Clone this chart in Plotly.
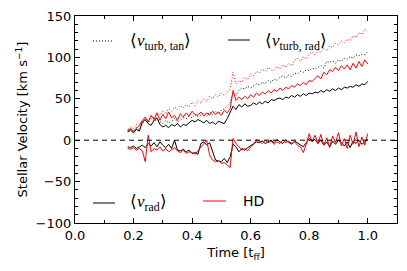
import plotly.graph_objects as go

t = [0.18, 0.19, 0.20, 0.21, 0.22, 0.23, 0.24, 0.25, 0.26, 0.27,
     0.28, 0.29, 0.30, 0.31, 0.32, 0.33, 0.34, 0.35, 0.36, 0.37,
     0.38, 0.39, 0.40, 0.41, 0.42, 0.43, 0.44, 0.45, 0.46, 0.47,
     0.48, 0.49, 0.50, 0.51, 0.52, 0.53, 0.54, 0.55, 0.56, 0.57,
     0.58, 0.59, 0.60, 0.61, 0.62, 0.63, 0.64, 0.65, 0.66, 0.67,
     0.68, 0.69, 0.70, 0.71, 0.72, 0.73, 0.74, 0.75, 0.76, 0.77,
     0.78, 0.79, 0.80, 0.81, 0.82, 0.83, 0.84, 0.85, 0.86, 0.87,
     0.88, 0.89, 0.90, 0.91, 0.92, 0.93, 0.94, 0.95, 0.96, 0.97,
     0.98, 0.99, 1.00]

# MHD (black)
black_turb_rad = [10, 12, 9, 13, 11, 22, 25, 20, 18, 24, 27, 19, 16, 18, 15,
                  19, 17, 20, 16, 19, 18, 21, 24, 22, 25, 23, 21, 24, 20, 22,
                  19, 23, 21, 20, 26, 33, 41, 37, 43, 40, 44, 41, 42, 45, 43,
                  46, 44, 47, 45, 49, 48, 50, 51, 49, 52, 51, 54, 52, 55, 53,
                  56, 54, 57, 56, 58, 57, 60, 58, 61, 59, 62, 60, 63, 61, 64,
                  63, 65, 64, 67, 65, 68, 67, 71]
black_turb_tan = [11, 13, 10, 15, 12, 20, 24, 21, 26, 23, 25, 22, 20, 24, 21,
                  23, 26, 22, 25, 27, 26, 29, 27, 31, 28, 30, 33, 29, 34, 31,
                  35, 32, 36, 38, 42, 45, 58, 54, 60, 63, 62, 65, 63, 66, 68,
                  67, 70, 68, 72, 70, 74, 72, 76, 78, 75, 79, 77, 81, 80, 83,
                  82, 85, 84, 87, 86, 88, 90, 87, 95, 94, 96, 93, 97, 95, 99,
                  98, 101, 99, 103, 102, 104, 103, 107]
black_rad = [-8, -9, -7, -10, -8, -6, -9, -4, -7, -3, -8, -2, -6, -9, -5,
             -10, 0, -12, -13, -11, -14, -12, -16, -15, -17, -4, -2, -6, -3, -15,
             -24, -25, -26, -22, -27, -20, -5, -8, -14, -10, -12, -9, -7, -4, -2,
             -3, -1, -4, -2, 0, -3, 1, -2, -4, 0, -2, -5, -1, -3, -6,
             -8, -3, 2, -1, 1, -4, 0, -6, -2, -8, -1, -5, 0, -3, -7,
             -2, -9, -1, -4, 0, -5, -2, 1]

# HD (red)
red_turb_rad = [12, 14, 11, 15, 18, 24, 28, 22, 30, 25, 33, 24, 31, 26, 34,
                27, 30, 24, 32, 28, 33, 29, 35, 31, 30, 34, 29, 33, 30, 35,
                31, 34, 30, 36, 33, 38, 60, 48, 52, 49, 53, 50, 55, 52, 57,
                54, 58, 56, 60, 57, 61, 59, 63, 60, 64, 62, 66, 64, 68, 66,
                70, 67, 72, 71, 75, 78, 74, 82, 79, 85, 83, 88, 84, 90, 86,
                91, 85, 93, 87, 95, 89, 97, 92]
red_turb_tan = [13, 16, 14, 19, 17, 22, 26, 24, 29, 27, 33, 30, 36, 32, 38,
                35, 40, 37, 42, 39, 43, 40, 46, 42, 48, 45, 50, 47, 53, 50,
                55, 52, 57, 54, 58, 62, 82, 68, 72, 70, 76, 73, 80, 78, 83,
                81, 86, 83, 88, 85, 84, 89, 86, 91, 88, 93, 90, 96, 99, 95,
                101, 98, 104, 107, 103, 109, 106, 111, 108, 114, 112, 117, 115, 120, 118,
                122, 120, 126, 124, 130, 128, 134, 131]
red_rad = [-10, -11, -9, -12, -10, -13, -26, 6, -14, -10, -12, -8, -13, -10, -14,
           -11, -9, -13, -15, -12, -16, -14, -15, -17, -13, -9, -5, 0, -18, -24,
           -26, -25, -28, -27, -30, -33, 2, -4, -8, -12, -10, -13, -8, -5, 1,
           -2, -4, 0, -3, -1, -5, -2, -4, 0, -3, -1, -4, -2, -6, -8,
           -15, -5, 8, -2, 6, -4, 7, -6, 3, -9, 5, -3, 9, -7, 2,
           -10, 6, -5, 10, -8, 4, -6, 8]

x_ticks = [0.0, 0.2, 0.4, 0.6, 0.8, 1.0]
x_ticktext = ["0.0", "0.2", "0.4", "0.6", "0.8", "1.0"]
y_ticks = [-100, -50, 0, 50, 100, 150]

DOT = "1px,2px"

fig = go.Figure()

def add(y, color, dash):
    fig.add_trace(go.Scatter(x=t, y=y, mode="lines",
                             line=dict(color=color, width=1, dash=dash),
                             showlegend=False, hoverinfo="skip"))

add(black_turb_tan, "black", DOT)
add(red_turb_tan, "red", DOT)
add(black_turb_rad, "black", "solid")
add(red_turb_rad, "red", "solid")
add(black_rad, "black", "solid")
add(red_rad, "red", "solid")

# zero reference line
fig.add_shape(type="line", xref="paper", yref="y", x0=0, x1=1, y0=0, y1=0,
              line=dict(color="black", width=1, dash="5px,4px"))

# legend (paper coordinates of plot area)
X0, W, YB, H = 75, 322, 223, 207
def px(x):
    return (x - X0) / W
def py(y):
    return (YB - y) / H

legend_items = [
    (93, 113, 41, "black", DOT, 128, 42,
     "⟨<i>v</i><sub>turb, tan</sub>⟩", "Liberation Serif", 17),
    (228, 250, 40, "black", "solid", 263, 42,
     "⟨<i>v</i><sub>turb, rad</sub>⟩", "Liberation Serif", 17),
    (93, 115, 203, "black", "solid", 128, 203,
     "⟨<i>v</i><sub>rad</sub>⟩", "Liberation Serif", 17),
    (203, 226, 201, "red", "solid", 241, 201,
     "HD", "DejaVu Sans", 14),
]
for x0, x1, yy, col, dash, tx, ty, txt, fam, fs in legend_items:
    fig.add_shape(type="line", xref="paper", yref="paper",
                  x0=px(x0), x1=px(x1), y0=py(yy), y1=py(yy),
                  line=dict(color=col, width=1, dash=dash))
    fig.add_annotation(xref="paper", yref="paper", x=px(tx), y=py(ty),
                       text=txt, showarrow=False, xanchor="left",
                       yanchor="middle",
                       font=dict(family=fam, size=fs, color="black"))

axis_common = dict(showline=True, linecolor="black", linewidth=1.3,
                   mirror="allticks", ticks="inside", ticklen=5,
                   tickwidth=1, tickcolor="black", showgrid=False,
                   zeroline=False, automargin=False,
                   tickfont=dict(family="DejaVu Sans", size=13, color="black"))

fig.update_xaxes(range=[0, 1.1], tickvals=x_ticks, ticktext=x_ticktext,
                 minor=dict(dtick=0.1, ticks="inside", ticklen=2.5,
                            tickcolor="black", showgrid=False),
                 title=dict(text="Time [t<sub>ff</sub>]",
                            font=dict(family="DejaVu Sans", size=13, color="black"),
                            standoff=6),
                 **axis_common)
fig.update_yaxes(range=[-100, 150], tickvals=y_ticks,
                 minor=dict(dtick=10, ticks="inside", ticklen=2.5,
                            tickcolor="black", showgrid=False),
                 title=dict(text="Stellar Velocity [km s<sup>−1</sup>]",
                            font=dict(family="DejaVu Sans", size=13, color="black"),
                            standoff=4),
                 **axis_common)

fig.update_layout(width=407, height=271,
                  margin=dict(l=75, r=10, t=16, b=48, autoexpand=False),
                  paper_bgcolor="white", plot_bgcolor="white")

fig.write_html("out.html", config={"displayModeBar": False},
               post_script="document.body.style.margin='0';document.body.style.overflow='hidden';")
